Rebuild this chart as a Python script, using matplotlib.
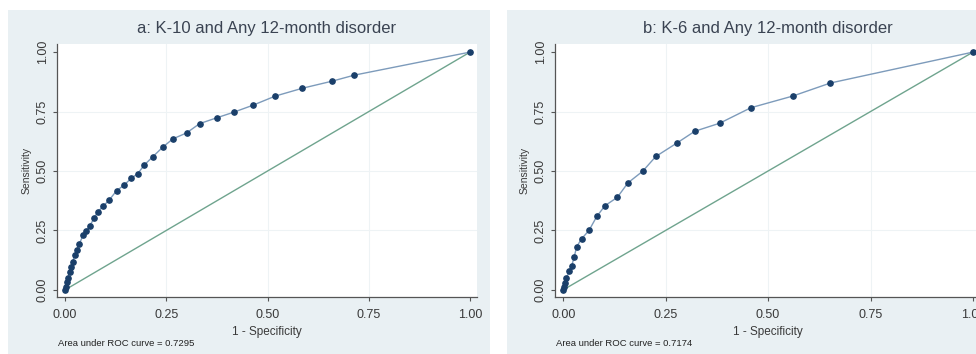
import matplotlib
matplotlib.use('Agg')
import matplotlib.pyplot as plt
from matplotlib.patches import Rectangle

plt.rcParams['font.family'] = ['Liberation Sans', 'DejaVu Sans']

# panel a: K-10
fpr_a = [0, 0.002, 0.004, 0.007, 0.011, 0.015, 0.019, 0.024, 0.029, 0.035, 0.044, 0.052,
         0.061, 0.072, 0.080, 0.094, 0.109, 0.127, 0.146, 0.163, 0.179, 0.196, 0.216,
         0.241, 0.266, 0.300, 0.332, 0.375, 0.416, 0.463, 0.519, 0.586, 0.660, 0.714, 1.0]
tpr_a = [0, 0.014, 0.031, 0.049, 0.077, 0.098, 0.119, 0.148, 0.169, 0.192, 0.229, 0.248,
         0.270, 0.302, 0.327, 0.352, 0.378, 0.417, 0.441, 0.469, 0.488, 0.526, 0.559,
         0.600, 0.635, 0.660, 0.699, 0.724, 0.747, 0.776, 0.815, 0.848, 0.878, 0.903, 1.0]
# panel b: K-6
fpr_b = [0, 0.002, 0.004, 0.008, 0.015, 0.021, 0.027, 0.033, 0.045, 0.063, 0.082, 0.102,
         0.132, 0.158, 0.194, 0.226, 0.277, 0.321, 0.382, 0.458, 0.560, 0.652, 1.0]
tpr_b = [0, 0.011, 0.028, 0.048, 0.081, 0.102, 0.140, 0.182, 0.215, 0.250, 0.309, 0.354,
         0.389, 0.450, 0.499, 0.561, 0.617, 0.667, 0.701, 0.766, 0.815, 0.870, 1.0]

titles = ['a: K-10 and Any 12-month disorder', 'b: K-6 and Any 12-month disorder']
auc_notes = ['Area under ROC curve = 0.7295', 'Area under ROC curve = 0.7174']
ticks = [0, 0.25, 0.5, 0.75, 1.0]
tick_labels = ['0.00', '0.25', '0.50', '0.75', '1.00']

W, H = 976, 354
bg = '#e9f0f3'
fig = plt.figure(figsize=(9.76, 3.54), dpi=100)
fig.patch.set_facecolor('white')

# light panel backgrounds (pixel boxes: left, top, right, bottom)
for l, t, r, b in [(8, 10, 490, 354), (507, 10, 976, 354)]:
    fig.patches.append(Rectangle((l / W, 1 - b / H), (r - l) / W, (b - t) / H,
                                 transform=fig.transFigure, facecolor=bg,
                                 edgecolor='none', zorder=-10))

axes_px = [(57, 44, 477, 297), (555, 44, 980, 297)]
data = [(fpr_a, tpr_a), (fpr_b, tpr_b)]

for i in range(2):
    l, t, r, b = axes_px[i]
    ax = fig.add_axes([l / W, 1 - b / H, (r - l) / W, (b - t) / H])
    ax.set_facecolor('white')
    x, y = data[i]
    for g in [0.25, 0.5, 0.75]:
        ax.axhline(g, color='#eef3f5', lw=0.8, zorder=1)
        ax.axvline(g, color='#eef3f5', lw=0.8, zorder=1)
    ax.plot([0, 1], [0, 1], color='#6fa48e', lw=1.0, zorder=2)
    ax.plot(x, y, color='#7d9bbb', lw=1.0, zorder=3)
    ax.plot(x, y, 'o', color='#1a3f6a', markersize=3.8, zorder=4)
    ax.set_xlim(-0.02, 1.017)
    ax.set_ylim(-0.03, 1.034)
    ax.set_xticks(ticks)
    ax.set_xticklabels(tick_labels, fontsize=9, color='#3a3a3a')
    ax.set_yticks(ticks)
    ax.set_yticklabels(tick_labels, fontsize=9, color='#3a3a3a', rotation=90, va='center')
    ax.tick_params(length=3, width=0.8, color='#555555', pad=3)
    ax.tick_params(axis='x', pad=6)
    for s in ['top', 'right']:
        ax.spines[s].set_visible(False)
    for s in ['left', 'bottom']:
        ax.spines[s].set_color('#555555')
        ax.spines[s].set_linewidth(0.9)
    ax.set_title(titles[i], fontsize=12, color='#3a4352', pad=8)
    ax.set_xlabel('1 - Specificity', fontsize=8.5, color='#3a3a3a', labelpad=3)
    ax.set_ylabel('Sensitivity', fontsize=7.5, color='#3a3a3a', labelpad=4)
    fig.text((l + 1) / W, 1 - 343 / H, auc_notes[i], fontsize=6.8, color='#222222',
             va='center', ha='left')

fig.savefig('out.png', dpi=100)
